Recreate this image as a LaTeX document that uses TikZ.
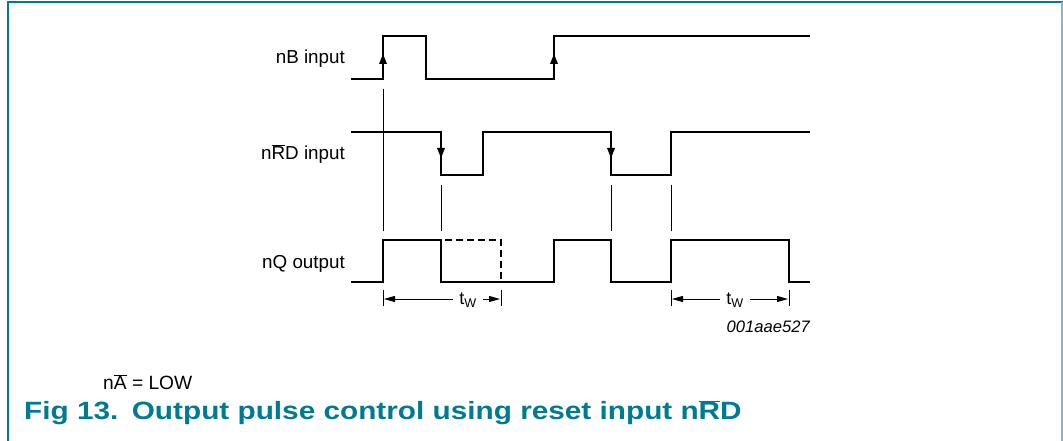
\documentclass[tikz,border=0pt]{standalone}
\usepackage{fontspec}
\setmainfont{Liberation Sans}
\usetikzlibrary{arrows.meta}
\definecolor{frameteal}{RGB}{0,122,145}
\definecolor{framelight}{RGB}{125,185,200}
\newcommand{\ovr}[1]{$\overline{\mbox{#1}}$}
\tikzset{
  sig/.style={line width=2.6pt, line join=miter},
  dsig/.style={line width=2.6pt, dash pattern=on 7pt off 4pt},
  guide/.style={line width=0.9pt},
  lbl/.style={anchor=east, inner sep=0pt, font=\fontsize{18.8}{22}\selectfont},
  uptip/.style={fill=black},
  dim/.style={line width=0.9pt, -{Triangle[length=11pt,width=6pt]}}
}
\begin{document}
\begin{tikzpicture}[x=1pt,y=-1pt]
\useasboundingbox (0,0) rectangle (1063,441);
% frame
\draw[frameteal, line width=1.6pt] (8,441) -- (8,2) -- (1063,2);
\draw[framelight, line width=2pt] (1062,2) -- (1062,441);

% labels
\node[lbl] (lB) at (345,59) {nB input};
\node[lbl] (lRD) at (345,154) {n\ovr{R}D input};
\node[lbl] (lQ) at (345,264) {nQ output};

% nB waveform
\draw[sig] (351,79) -- (383,79) -- (383,36) -- (426,36) -- (426,79) -- (554,79) -- (554,36) -- (810,36);
\fill[uptip] (383,54) -- (379,64) -- (387,64) -- cycle;
\fill[uptip] (554,54) -- (550,64) -- (558,64) -- cycle;

% nRD waveform
\draw[sig] (351,132) -- (441,132) -- (441,175) -- (483,175) -- (483,132) -- (611,132) -- (611,175) -- (671,175) -- (671,132) -- (810,132);
\fill[uptip] (441,158) -- (437,148) -- (445,148) -- cycle;
\fill[uptip] (611,158) -- (607,148) -- (615,148) -- cycle;

% nQ waveform
\draw[sig] (351,282) -- (383,282) -- (383,240) -- (441,240) -- (441,282) -- (554,282) -- (554,240) -- (611,240) -- (611,282) -- (671,282) -- (671,240) -- (789,240) -- (789,282) -- (810,282);
\draw[dsig] (445,240) -- (501,240) -- (501,282);

% guide lines
\draw[guide] (383,89) -- (383,231);
\draw[guide] (441,185) -- (441,231);
\draw[guide] (611,185) -- (611,231);
\draw[guide] (671,185) -- (671,231);

% tW dimensions
\coordinate (a1) at (384,299);
\coordinate (b1) at (500,299);
\coordinate (a2) at (672,299);
\coordinate (b2) at (788,299);
\draw[guide] (383,290) -- (383,306);
\draw[guide] (501,290) -- (501,306);
\draw[guide] (671,290) -- (671,306);
\draw[guide] (789,290) -- (789,306);
\node[inner sep=0pt, font=\fontsize{18}{21}\selectfont] (t1) at (468,300) {t\textsubscript{W}};
\node[inner sep=0pt, font=\fontsize{18}{21}\selectfont] (t2) at (735,300) {t\textsubscript{W}};
\draw[dim] (t1.west) ++(-6,-1) coordinate (t1w) (t1w) -- (a1);
\draw[dim] (t1.east) ++(6,-1) coordinate (t1e) (t1e) -- (b1);
\draw[dim] (t2.west) ++(-6,-1) coordinate (t2w) (t2w) -- (a2);
\draw[dim] (t2.east) ++(6,-1) coordinate (t2e) (t2e) -- (b2);

\node[anchor=east, inner sep=0pt, font=\fontsize{16.6}{19}\selectfont\itshape] (code) at (810,327) {001aae527};

\node[anchor=west, inner sep=0pt, font=\fontsize{19.2}{22}\selectfont] (na) at (103,382) {n\ovr{A} = LOW};
\node[anchor=west, inner sep=0pt, text=frameteal, xscale=1.19, transform shape, font=\fontsize{25}{29}\selectfont\bfseries] (cap) at (24,413) {Fig 13.\hspace{0.45em}Output pulse control using reset input n\ovr{R}D};
\end{tikzpicture}
\end{document}
